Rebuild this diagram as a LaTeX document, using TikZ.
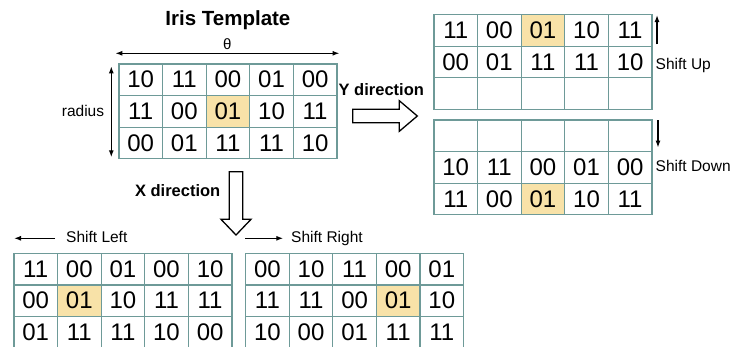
\documentclass[tikz,border=0pt]{standalone}
\usepackage{fontspec}
\setmainfont{Liberation Sans}
\usetikzlibrary{
  positioning,
  calc,
  arrows.meta,
}
\definecolor{gridline}{HTML}{6E9A98}
\definecolor{hlfill}{HTML}{F8E2A8}
\tikzset{
  cell/.style={
    draw=gridline,
    line width=1.2pt,
    minimum width=43.6pt,
    minimum height=31.6pt,
    inner sep=0pt,
    anchor=north west,
    font=\fontsize{24}{24}\selectfont
  },
  lbl/.style={
    inner sep=0pt,
    font=\fontsize{15.5}{15.5}\selectfont
  },
  bold lbl/.style={
    inner sep=0pt,
    font=\fontsize{16.5}{16.5}\selectfont\bfseries
  },
  title/.style={
    inner sep=0pt,
    font=\fontsize{20.5}{20.5}\selectfont\bfseries
  },
  thin/.style={
    line width=1.3pt
  },
  hollow/.style={
    draw,
    line width=1.3pt,
    fill=white
  }
}
% one grid of two-bit cells: name, top left corner, marked cell, rows
\newcommand{\bitgrid}[4]{
  \foreach \bitrow [count=\rowi] in {#4} {
    \foreach \val [count=\coli] in \bitrow {
      \edef\here{\rowi-\coli}\edef\target{#3}
      \ifx\here\target \def\cellfill{hlfill}\else\def\cellfill{white}\fi
      \node[cell, fill=\cellfill] (#1-\rowi-\coli)
        at ($(#2)+({(\coli-1)*43.6},{-(\rowi-1)*31.6})$) {\raisebox{-1pt}{\val}};
    }
  }
}

\begin{document}
\begin{tikzpicture}[x=1pt, y=1pt, >={Latex[length=7pt,width=5pt]}]
  \useasboundingbox (0,0) rectangle (730,-346);

  % template and its axes
  \bitgrid{main}{118.3,-63.3}{2-3}{{10,11,00,01,00},{11,00,01,10,11},{00,01,11,11,10}}
  \node[title] (title) at ([yshift=43pt]main-1-3.north) {Iris Template};
  \coordinate (thl) at ([xshift=-3pt,yshift=10pt]main-1-1.north west);
  \coordinate (thr) at ([xshift=2pt,yshift=10pt]main-1-5.north east);
  \draw[thin, <->] (thl) -- (thr) node[midway, above=3pt, lbl, font=\fontsize{15}{15}\selectfont] (theta) {θ};
  \coordinate (rtop) at ([xshift=-7pt,yshift=-3pt]main-1-1.north west);
  \coordinate (rbot) at ([xshift=-7pt,yshift=2pt]main-3-1.south west);
  \draw[thin, <->] (rtop) -- (rbot);
  \node[lbl, anchor=east] (radius) at ([xshift=-14pt]main-2-1.west) {radius};

  % Y direction
  \node[bold lbl] (ydir) at (381.3,-90) {Y direction};
  \coordinate (ytail) at (352.7,-116);
  \draw[hollow] ([yshift=6.7pt]ytail) -- ++(46.6,0) -- ++(0,8.6) -- ++(18,-15.3)
    -- ++(-18,-15.3) -- ++(0,8.6) -- ++(-46.6,0) -- cycle;

  \bitgrid{up}{433.3,-14}{1-3}{{11,00,01,10,11},{00,01,11,11,10},{{},{},{},{},{}}}
  \draw[thin, ->] ([xshift=4.5pt,yshift=2.5pt]up-1-5.south east) -- ([xshift=4.5pt,yshift=-1pt]up-1-5.north east);
  \node[lbl, anchor=base west] (shup) at ([xshift=3pt,yshift=-7.5pt]up-2-5.east) {Shift Up};

  \bitgrid{down}{433.3,-119.3}{3-3}{{{},{},{},{},{}},{10,11,00,01,00},{11,00,01,10,11}}
  \draw[thin, ->] ([xshift=5.5pt,yshift=-1pt]down-1-5.north east) -- ([xshift=5.5pt,yshift=4.5pt]down-1-5.south east);
  \node[lbl, anchor=base west] (shdown) at ([xshift=3pt,yshift=-4.5pt]down-2-5.east) {Shift Down};

  % X direction
  \node[bold lbl] (xdir) at (177.7,-190.7) {X direction};
  \coordinate (xtail) at (236,-171.7);
  \draw[hollow] ([xshift=-6.7pt]xtail) -- ++(0,-47.6) -- ++(-8.3,0) -- ++(15,-15.7)
    -- ++(15,15.7) -- ++(-8.3,0) -- ++(0,47.6) -- cycle;

  \bitgrid{left}{13.3,-252.7}{2-2}{{11,00,01,00,10},{00,01,10,11,11},{01,11,11,10,00}}
  \draw[thin, ->] ([xshift=41.7pt,yshift=14.4pt]left-1-1.north west) -- ([xshift=0.7pt,yshift=14.4pt]left-1-1.north west);
  \node[lbl, anchor=base west] (shleft) at ([xshift=52.7pt,yshift=10.5pt]left-1-1.north west) {Shift Left};

  \bitgrid{right}{245,-252.7}{2-4}{{00,10,11,00,01},{11,11,00,01,10},{10,00,01,11,11}}
  \draw[thin, ->] ([yshift=14.4pt]right-1-1.north west) -- ([xshift=38.3pt,yshift=14.4pt]right-1-1.north west);
  \node[lbl, anchor=base west] (shright) at ([xshift=46pt,yshift=10.5pt]right-1-1.north west) {Shift Right};
\end{tikzpicture}
\end{document}
